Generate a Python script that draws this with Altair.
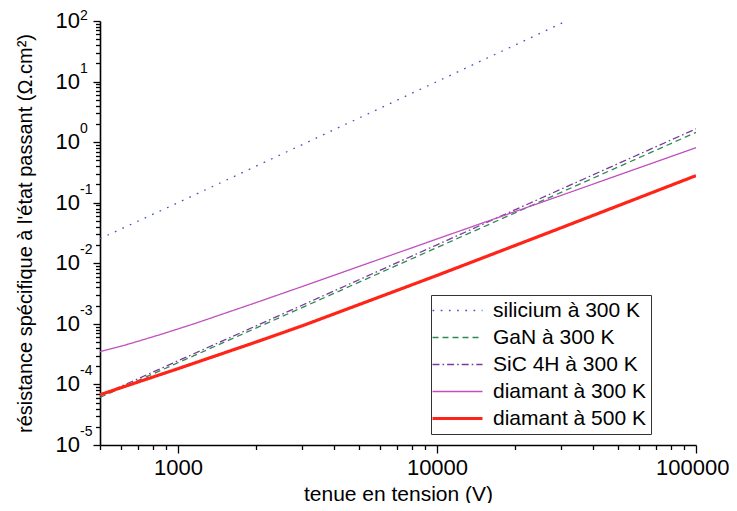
import altair as alt
import pandas as pd

# ---- data ----
series_names = ["silicium à 300 K", "GaN à 300 K", "SiC 4H à 300 K",
                "diamant à 300 K", "diamant à 500 K"]

si_v = [500, 1000, 2000, 5000, 10000, 20000, 31500]
si_r = [0.0255, 0.10, 0.40, 2.5, 10.0, 40.0, 100.0]

gan_v = [500, 1000, 3000, 10000, 30000, 100000]
gan_r = [6.1e-5, 2.28e-4, 1.84e-3, 0.0182, 0.147, 1.45]

sic_v = [500, 1000, 3000, 10000, 30000, 100000]
sic_r = [6.5e-5, 2.45e-4, 2.01e-3, 0.0202, 0.166, 1.66]

d300_v = [500, 643, 865, 1160, 2000, 3000, 10000, 30000, 100000]
d300_r = [3.47e-4, 4.62e-4, 6.76e-4, 1.01e-3, 2.24e-3, 4.1e-3, 0.0252, 0.131, 0.81]

d500_v = [500, 1000, 2000, 3000, 5000, 10000, 30000, 100000]
d500_r = [6.76e-5, 1.82e-4, 5.0e-4, 9.2e-4, 2.08e-3, 6.3e-3, 0.0382, 0.28]

x_major = [1000, 10000, 100000]
x_minor = [500, 600, 700, 800, 900, 2000, 3000, 4000, 5000, 6000, 7000, 8000, 9000,
           20000, 30000, 40000, 50000, 60000, 70000, 80000, 90000]
y_exponents = [-5, -4, -3, -2, -1, 0, 1, 2]

colors = ["#4456c4", "#2e8b50", "#7a3a9c", "#c050c0", "#ff2418"]
dashes = [[1.7, 6.5], [6, 4], [7, 3, 1.6, 3], [1, 0], [1, 0]]
thick_serie = "diamant à 500 K"

# ---- tables ----
rows = []
for name, vs, rs in zip(series_names,
                        [si_v, gan_v, sic_v, d300_v, d500_v],
                        [si_r, gan_r, sic_r, d300_r, d500_r]):
    for v, r in zip(vs, rs):
        rows.append({"serie": name, "V": v, "R": r})
df = pd.DataFrame(rows)

y_major = [10.0 ** e for e in y_exponents]
y_minor = [m * 10.0 ** e for e in y_exponents[:-1] for m in range(2, 10)]
y_ticks = y_major + y_minor
x_ticks = x_major + x_minor

lab = pd.DataFrame({"R": y_major, "exp": [str(e) for e in y_exponents]})
lab_top = lab[lab["R"] >= 100]
lab_rest = lab[lab["R"] < 100]

FONT = "Liberation Sans"

xscale = alt.Scale(type="log", domain=[500, 100000], nice=False)
yscale = alt.Scale(type="log", domain=[1e-5, 100], nice=False)

major_test = "abs(log(datum.value)/LN10 - round(log(datum.value)/LN10)) < 1e-6"

xaxis = alt.Axis(values=x_ticks, format="d",
                 labelExpr="(" + major_test + ") ? datum.label : ''",
                 tickSize={"condition": {"test": major_test, "value": 8}, "value": 4.5},
                 labelFontSize=22, labelFont=FONT, labelColor="black", labelPadding=4,
                 labelFlush=True, labelFlushOffset=33,
                 title="tenue en tension (V)", titleFontSize=21, titleFont=FONT,
                 titleFontWeight="normal", titleColor="black", titlePadding=5,
                 grid=False, domainColor="black", domainWidth=1.6, tickColor="black",
                 tickWidth=1.3, labelOverlap=False)

yaxis = alt.Axis(values=y_ticks, labels=False,
                 tickSize={"condition": {"test": major_test, "value": 7}, "value": 4.5},
                 title="résistance spécifique à l'état passant (Ω.cm²)",
                 titleFontSize=20, titleFont=FONT, titleFontWeight="normal",
                 titleColor="black", titlePadding=57,
                 grid=False, domainColor="black", domainWidth=1.6, tickColor="black",
                 tickWidth=1.3)

lines = alt.Chart(df).mark_line(clip=True).encode(
    x=alt.X("V:Q", scale=xscale, axis=xaxis),
    y=alt.Y("R:Q", scale=yscale, axis=yaxis),
    color=alt.Color("serie:N", scale=alt.Scale(domain=series_names, range=colors),
                    legend=alt.Legend(title=None)),
    strokeDash=alt.StrokeDash("serie:N", scale=alt.Scale(domain=series_names, range=dashes),
                              legend=alt.Legend(title=None)),
    strokeWidth=alt.condition(alt.datum.serie == thick_serie, alt.value(3.2), alt.value(1.3)),
    order="V:Q",
)

base10 = alt.Chart(lab).mark_text(align="right", baseline="middle", fontSize=22,
                                  font=FONT, color="black").encode(
    x=alt.value(-20), y=alt.Y("R:Q", scale=yscale), text=alt.value("10"))

expo = alt.Chart(lab_rest).mark_text(align="left", baseline="middle", fontSize=14,
                                     font=FONT, color="black", dy=-13).encode(
    x=alt.value(-20), y=alt.Y("R:Q", scale=yscale), text="exp:N")

expo_top = alt.Chart(lab_top).mark_text(align="left", baseline="middle", fontSize=14,
                                        font=FONT, color="black", dy=-5).encode(
    x=alt.value(-20), y=alt.Y("R:Q", scale=yscale), text="exp:N")

chart = alt.layer(lines, base10, expo, expo_top).properties(
    width=596, height=424,
    autosize=alt.AutoSizeParams(type="none"),
    padding={"left": 92, "top": 13, "right": 33, "bottom": 58},
).configure_view(stroke=None).configure_legend(
    orient="none", legendX=331, legendY=274,
    strokeColor="#333333", fillColor="white", padding=5,
    symbolType="M-1.4,0H3.6", symbolSize=400, labelFontSize=21, labelFont=FONT,
    labelColor="black", labelLimit=400, rowPadding=5, labelOffset=36,
    symbolStrokeWidth={"expr": "datum.value == '" + thick_serie + "' ? 3.2 : 1.3"},
)

chart.save("out.html", embed_options={"renderer": "svg", "actions": False})
